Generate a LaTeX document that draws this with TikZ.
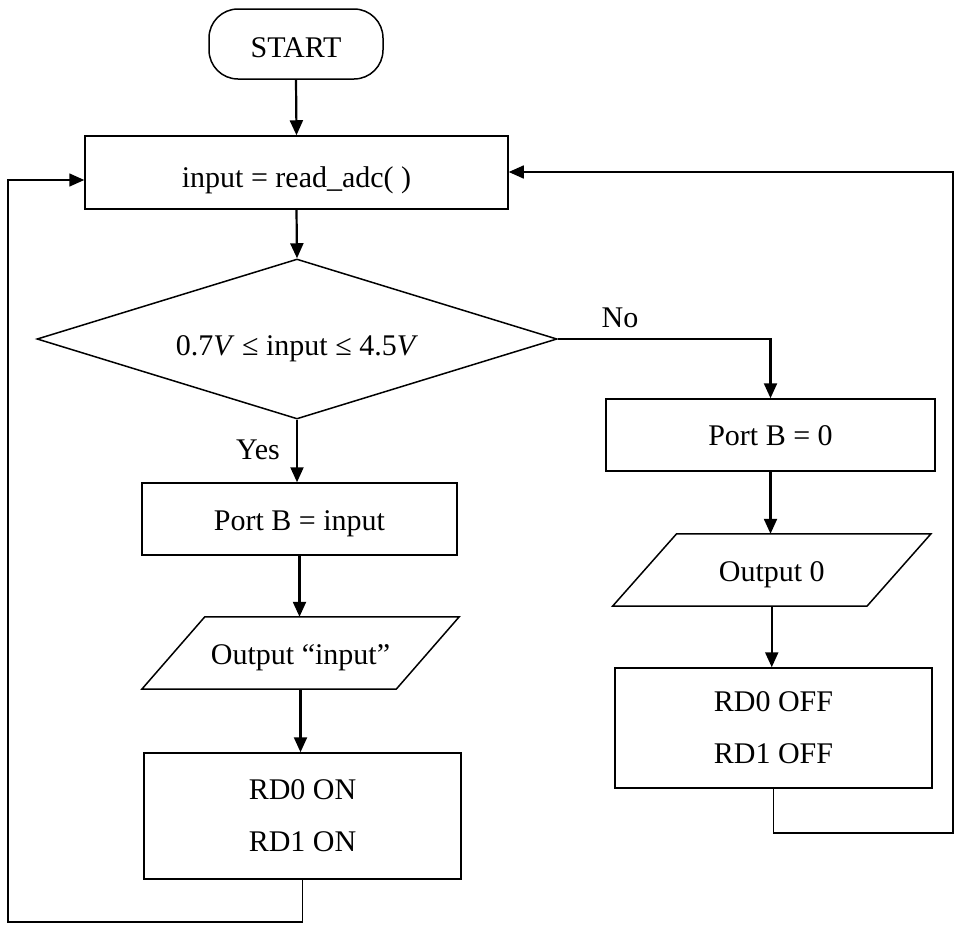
\documentclass[tikz,border=0pt]{standalone}
\usepackage{fontspec}
\setmainfont{Liberation Serif}
\usetikzlibrary{arrows.meta,shapes.geometric}
\begin{document}
\begin{tikzpicture}[x=1pt,y=-1pt,
  every node/.style={font=\fontsize{30}{52}\selectfont, inner sep=0pt},
  tlift/.style={text height=#1, text depth=0pt},
  box/.style={draw, line width=1.5pt, rectangle},
  para/.style={line width=1.5pt},
  arr/.style={line width=2.2pt, -{Triangle[length=15pt,width=13pt]}},
  loopline/.style={line width=1.6pt, -{Triangle[length=15pt,width=13pt]}}]
\useasboundingbox (0,0) rectangle (955,924);
% nodes
\node[box, tlift=27pt, rounded corners=29pt, minimum width=174pt, minimum height=70pt] (start) at (296,44) {START};
\node[box, tlift=30pt, minimum width=423pt, minimum height=73pt] (read) at (296.5,172.5) {input = read\_adc( )};
\node[draw, tlift=32pt, line width=1.5pt, diamond, aspect=3.25, minimum width=520pt, minimum height=160pt] (dec) at (297,339) {0.7\textit{V} ≤ input ≤ 4.5\textit{V}};
\node[box, tlift=22pt, minimum width=315pt, minimum height=72pt] (pbi) at (299.5,519) {Port B = input};
\node[tlift=22pt, minimum width=254pt, minimum height=72pt] (outi) at (300.5,653) {Output “input”};
\draw[para] ([xshift=31.5pt]outi.north west) -- ([xshift=31.5pt]outi.north east) -- ([xshift=-31.5pt]outi.south east) -- ([xshift=-31.5pt]outi.south west) -- cycle;
\node[box, minimum width=317pt, minimum height=126pt, align=center] (rdon) at (302.5,816) {RD0 ON\\RD1 ON};
\node[box, tlift=20pt, minimum width=329pt, minimum height=72pt] (pb0) at (770.5,435) {Port B = 0};
\node[tlift=22pt, minimum width=254pt, minimum height=72pt] (out0) at (771.75,570) {Output 0};
\draw[para] ([xshift=32pt]out0.north west) -- ([xshift=32pt]out0.north east) -- ([xshift=-32pt]out0.south east) -- ([xshift=-32pt]out0.south west) -- cycle;
\node[box, minimum width=317pt, minimum height=120pt, align=center] (rdoff) at (773.5,728) {RD0 OFF\\RD1 OFF};
% labels
\node (no) at (620,318) {No};
\node (yes) at (258,450) {Yes};
% connectors
\draw[arr] (start.south) -- (read.north);
\draw[arr] (read.south) -- (dec.north);
\draw[arr] (dec.south) -- (dec.south |- pbi.north);
\draw[arr] (pbi.south) -- (pbi.south |- outi.north);
\draw[arr] (outi.south) -- (outi.south |- rdon.north);
\draw[arr] (dec.east) -| (pb0.north);
\draw[arr] (pb0.south) -- (pb0.south |- out0.north);
\draw[arr] (out0.south) -- (out0.south |- rdoff.north);
\coordinate (lbot) at (8,922);
\coordinate (ltop) at (8,180);
\draw[loopline] (rdon.south) |- (lbot) -- (ltop) -- (ltop -| read.west);
\coordinate (rbot) at (953,833);
\coordinate (rtop) at (953,172);
\draw[loopline] (rdoff.south) |- (rbot) -- (rtop) -- (rtop -| read.east);
\end{tikzpicture}
\end{document}
